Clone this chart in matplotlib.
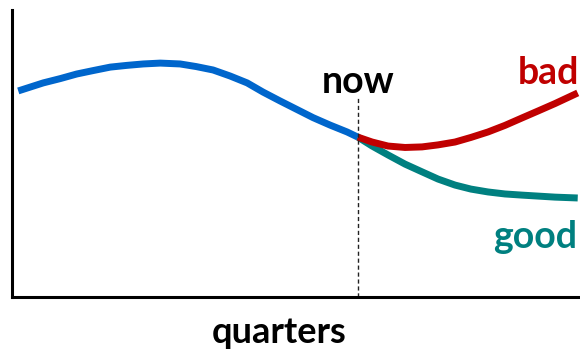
import numpy as np
import matplotlib.pyplot as plt

# curve values (x: 0-100 across the axis, y: 0-100 up the axis)
past_x = [1.1, 5.5, 8.5, 11.4, 14.3, 17.3, 20.2, 23.1, 26.1, 29.6, 32.4, 35.4,
          38.4, 41.4, 44.2, 47.2, 50.2, 53.0, 56.0, 59.0, 60.9]
past_y = [71.8, 74.6, 76.1, 77.7, 78.9, 80.1, 80.7, 81.2, 81.5, 81.2, 80.3, 79.1,
          77.0, 74.6, 71.4, 68.3, 65.3, 62.5, 59.9, 57.5, 55.7]

bad_x = [60.9, 63.4, 66.2, 69.2, 72.2, 75.0, 78.0, 80.8, 83.8, 86.8, 89.8, 92.6, 95.6, 99.6]
bad_y = [55.7, 54.0, 52.6, 52.1, 52.3, 53.0, 54.0, 55.6, 57.5, 59.8, 62.4, 64.8, 67.4, 71.1]

good_x = [60.9, 63.4, 66.2, 69.2, 72.2, 75.0, 78.0, 80.8, 83.8, 86.8, 89.8, 95.6, 99.6]
good_y = [55.7, 52.6, 49.5, 46.3, 43.6, 41.1, 39.0, 37.6, 36.6, 35.9, 35.5, 34.8, 34.5]

now_x = 60.9
now_top = 69.5

blue = '#0066CC'
red = '#C00000'
teal = '#008080'

plt.rcParams['font.family'] = ['Lato', 'DejaVu Sans']

fig = plt.figure(figsize=(5.8, 3.54), dpi=100)
ax = fig.add_axes([12/580, 57/354, 568/580, 287/354])

ax.plot(past_x, past_y, color=blue, linewidth=5, solid_capstyle='butt', solid_joinstyle='round')
ax.plot(good_x, good_y, color=teal, linewidth=5, solid_capstyle='butt', solid_joinstyle='round')
ax.plot(bad_x, bad_y, color=red, linewidth=5, solid_capstyle='butt', solid_joinstyle='round')
ax.plot([now_x, now_x], [0, now_top], color='#222222', linewidth=1, linestyle=(0, (3, 2)))

ax.text(now_x, 71.2, 'now', fontsize=27, fontweight='bold', color='black', ha='center', va='baseline')
ax.text(89.0, 74.2, 'bad', fontsize=27, fontweight='bold', color=red, ha='left', va='baseline')
ax.text(84.7, 17.1, 'good', fontsize=27, fontweight='bold', color=teal, ha='left', va='baseline')

ax.set_xlim(0, 100)
ax.set_ylim(0, 100)
ax.set_xticks([])
ax.set_yticks([])
for s in ['top', 'right']:
    ax.spines[s].set_visible(False)
for s in ['left', 'bottom']:
    ax.spines[s].set_linewidth(2.2)

fig.text(279/580, 11/354, 'quarters', fontsize=26, fontweight='bold', ha='center', va='baseline')

plt.savefig('out.png', dpi=100)
